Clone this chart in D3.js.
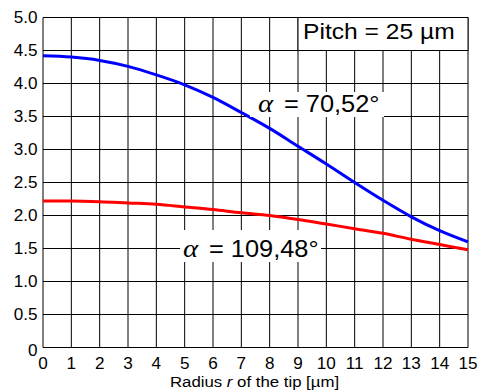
<!DOCTYPE html>
<html><head><meta charset="utf-8">
<script src="https://cdn.jsdelivr.net/npm/d3@7"></script>
<style>body{margin:0;background:#fff}svg{display:block}text{font-family:"Liberation Sans",Arial,sans-serif;fill:#000}</style>
</head><body>
<script>
const radius = [0,1,2,3,4,5,6,7,8,9,10,11,12,13,14,15];
const blueAlpha70 = [4.42,4.40,4.35,4.26,4.13,3.98,3.79,3.56,3.32,3.05,2.78,2.50,2.23,1.98,1.77,1.60];
const redAlpha109 = [2.22,2.22,2.21,2.19,2.17,2.13,2.09,2.04,2.00,1.94,1.87,1.80,1.73,1.64,1.56,1.48];
const xTicks = [0,1,2,3,4,5,6,7,8,9,10,11,12,13,14,15];
const yTicks = [0,0.5,1,1.5,2,2.5,3,3.5,4,4.5,5];
const yTickLabels = ["0","0.5","1.0","1.5","2.0","2.5","3.0","3.5","4.0","4.5","5.0"];
const pitchLabel = "Pitch = 25 µm";
const label70 = "= 70,52°";
const label109 = "= 109,48°";

const W = 479, H = 391, SX = 1.1;
const svg = d3.select("body").append("svg").attr("width", W).attr("height", H);
const x = d3.scaleLinear().domain([0,15]).range([43,468]);
const y = d3.scaleLinear().domain([0,5]).range([347.5,17.5]);

function txt(g, px, py, s, size, anchor, sx) {
  return g.append("text").attr("transform", `translate(${px},${py}) scale(${sx||SX},1)`)
    .attr("text-anchor", anchor||"start").style("font-size", size+"px").text(s);
}

// grid
const grid = svg.append("g").attr("stroke", "#000").attr("stroke-width", 1);
grid.selectAll("line.v").data(xTicks).join("line").attr("class","v")
  .attr("x1", d=>x(d)).attr("x2", d=>x(d)).attr("y1", y(5)).attr("y2", y(0));
grid.selectAll("line.h").data(yTicks).join("line").attr("class","h")
  .attr("x1", x(0)).attr("x2", x(15)).attr("y1", d=>y(d)).attr("y2", d=>y(d));

// tick labels
yTicks.forEach((t,i)=>{
  txt(svg, 37.5, y(t) + 5.5 + (t===0?3:0), yTickLabels[i], 16, "end", 1.07);
});
xTicks.forEach(t=>{
  txt(svg, x(t), 369, String(t), 16, "middle", 1.07);
});

// axis title
const at = svg.append("text").attr("transform", `translate(${(x(0)+x(15))/2 - 1},387) scale(1.12,1)`)
  .attr("text-anchor","middle").style("font-size","15px");
at.append("tspan").text("Radius ");
at.append("tspan").style("font-style","italic").text("r");
at.append("tspan").text(" of the tip [µm]");

// curves
const line = d3.line().x((d,i)=>x(radius[i])).y(d=>y(d)).curve(d3.curveMonotoneX);
svg.append("path").datum(redAlpha109).attr("d", line).attr("fill","none").attr("stroke","#ff0000").attr("stroke-width",3);
svg.append("path").datum(blueAlpha70).attr("d", line).attr("fill","none").attr("stroke","#0000ff").attr("stroke-width",3);

// legend box
svg.append("rect").attr("x", x(9)).attr("y", y(5)).attr("width", x(15)-x(9)).attr("height", y(4.5)-y(5))
  .attr("fill","#fff").attr("stroke","#000").attr("stroke-width",1);
txt(svg, 303, 39, pitchLabel, 22, "start", 1.12);

// alpha labels
function alphaLabel(bx, by, bw, bh, ax, tx, ty, s) {
  svg.append("rect").attr("x", bx).attr("y", by).attr("width", bw).attr("height", bh).attr("fill","#fff");
  svg.append("text").attr("transform", `translate(${ax},${ty}) scale(1.15,1)`)
    .style("font-family","'Liberation Serif','DejaVu Serif',serif").style("font-style","italic")
    .style("font-size","25px").text("α");
  txt(svg, tx, ty, s, 23.5, "start", 1.08);
}
alphaLabel(250, 92, 134, 25, 258, 284, 112, label70);
alphaLabel(180, 230, 141, 32, 183, 209, 257, label109);
</script>
</body></html>
